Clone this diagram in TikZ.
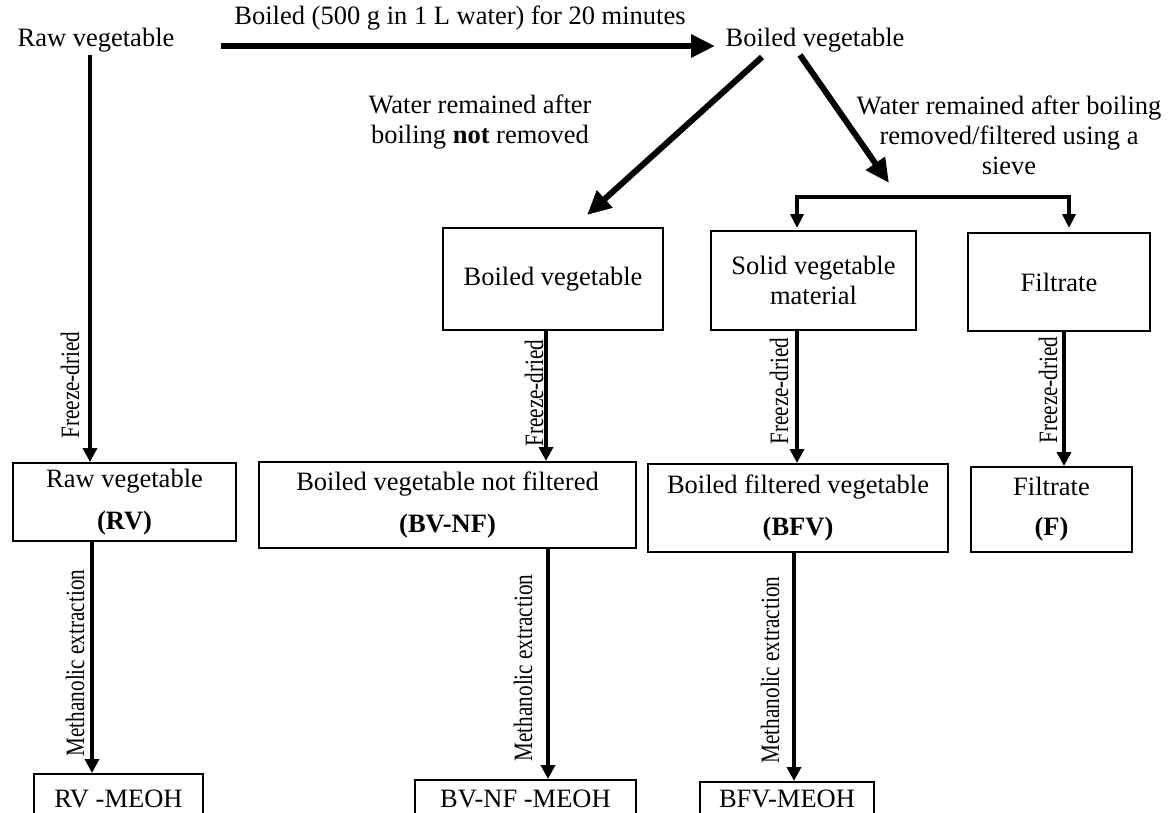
\documentclass[tikz,border=0pt]{standalone}
\usepackage{fontspec}
\usepackage{graphicx}
\setmainfont{Liberation Serif}
\usetikzlibrary{arrows.meta}
\begin{document}
\begin{tikzpicture}[x=1pt,y=-1pt,
  every node/.style={font=\fontsize{26.5}{30}\selectfont, inner sep=0pt, align=center},
  box/.style={draw, line width=2pt},
  bigarrow/.style={line width=6pt, -{Triangle[length=24pt,width=22pt]}},
  varrow/.style={line width=4pt, -{Triangle[length=14pt,width=14pt]}},
  brarrow/.style={line width=3.5pt, -{Triangle[length=14pt,width=13pt]}},
  sidelabel/.style={rotate=90, anchor=base}
]
\useasboundingbox (0,0) rectangle (1169,812);

% top row
\node (rawtop) at (96,40) {Raw vegetable};
\node (boiltop) at (815,40) {Boiled vegetable};
\node (toplabel) at (460,18) {Boiled (500 g in 1 L water) for 20 minutes};
\coordinate (ta) at (221,46);
\coordinate (tb) at (715,46);
\draw[bigarrow] (ta) -- (tb);

% labels of the branches
\node (leftlabel) at (480,122) {Water remained after\\boiling \textbf{not} removed};
\node (rightlabel) at (1009,135) {Water remained after boiling\\removed/filtered using a\\sieve};

% second row
\node[box, minimum width=220pt, minimum height=102pt] (bv) at (553,279) {Boiled vegetable};
\node[box, minimum width=205pt, minimum height=99pt] (svm) at (813.5,280.5) {Solid vegetable\\material};
\node[box, minimum width=182pt, minimum height=98pt] (fil) at (1059,282) {Filtrate};

% diagonals
\coordinate (dl1) at (762,57);
\coordinate (dl2) at (587,215);
\coordinate (dr1) at (800,55);
\coordinate (dr2) at (889,183);
\draw[bigarrow] (dl1) -- (dl2);
\draw[bigarrow] (dr1) -- (dr2);

% bracket
\coordinate (brl) at (797,197);
\coordinate (brr) at (1069,197);
\draw[line width=3.5pt] (brl) -- (brr);
\draw[brarrow] ([yshift=1.75pt]brl) -- (797,228);
\draw[brarrow] ([yshift=1.75pt]brr) -- (1069,228);

% third row
\node[box, minimum width=223pt, minimum height=78pt] (rv) at (124.5,502) {Raw vegetable\\[12pt]\textbf{(RV)}};
\node[box, minimum width=377pt, minimum height=86pt] (bvnf) at (447.5,505) {Boiled vegetable not filtered\\[12pt]\textbf{(BV-NF)}};
\node[box, minimum width=300pt, minimum height=88pt] (bfv) at (798,508) {Boiled filtered vegetable\\[12pt]\textbf{(BFV)}};
\node[box, minimum width=161pt, minimum height=85pt] (fbox) at (1051.5,509.5) {Filtrate\\[10pt]\textbf{(F)}};

% freeze-dried arrows
\coordinate (fr1) at (90,55);
\draw[varrow] (fr1) -- (rv.north -| fr1);
\node[sidelabel] (fl1) at (79,385) {\scalebox{0.8}[1]{Freeze-dried}};
\coordinate (fr2) at (546,0);
\draw[varrow] (bv.south -| fr2) -- (bvnf.north -| fr2);
\node[sidelabel] (fl2) at (543,393) {\scalebox{0.8}[1]{Freeze-dried}};
\coordinate (fr3) at (797,0);
\draw[varrow] (svm.south -| fr3) -- (bfv.north -| fr3);
\node[sidelabel] (fl3) at (788,391) {\scalebox{0.8}[1]{Freeze-dried}};
\coordinate (fr4) at (1064,0);
\draw[varrow] (fil.south -| fr4) -- (fbox.north -| fr4);
\node[sidelabel] (fl4) at (1057,390) {\scalebox{0.8}[1]{Freeze-dried}};

% fourth row (cut by the lower edge)
\node[box, minimum width=169pt, minimum height=50pt] (rvm) at (118.5,799) {RV -MEOH};
\node[box, minimum width=221pt, minimum height=38pt] (bvnfm) at (525.5,799) {BV-NF -MEOH};
\node[box, minimum width=174pt, minimum height=34pt] (bfvm) at (787,799) {BFV-MEOH};

% methanolic extraction arrows
\coordinate (me1) at (92,0);
\draw[varrow] (rv.south -| me1) -- (rvm.north -| me1);
\node[sidelabel] (ml1) at (84,663) {\scalebox{0.8}[1]{Methanolic extraction}};
\coordinate (me2) at (548,0);
\draw[varrow] (bvnf.south -| me2) -- (bvnfm.north -| me2);
\node[sidelabel] (ml2) at (532,668) {\scalebox{0.8}[1]{Methanolic extraction}};
\coordinate (me3) at (794,0);
\draw[varrow] (bfv.south -| me3) -- (bfvm.north -| me3);
\node[sidelabel] (ml3) at (779,670) {\scalebox{0.8}[1]{Methanolic extraction}};
\end{tikzpicture}
\end{document}
